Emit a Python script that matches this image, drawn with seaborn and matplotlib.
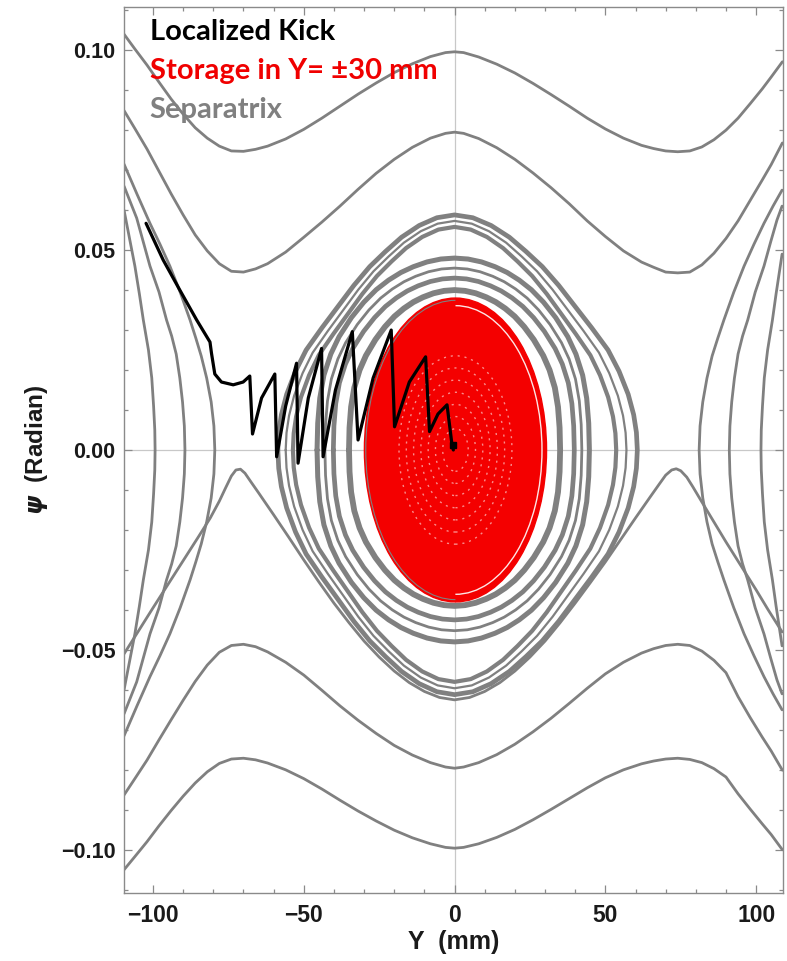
import matplotlib
matplotlib.use("Agg")
import matplotlib.pyplot as plt
from matplotlib.patches import Ellipse, Arc
from matplotlib.ticker import FixedLocator, FixedFormatter, MultipleLocator
from matplotlib.mathtext import MathTextParser
import seaborn as sns

# ---------------- phase-space trajectories (Y in mm, psi in rad) ----------------
# rotating orbits above the bucket
top_y = [-109.6, -106, -102, -98, -94, -90, -86, -82, -78, -74, -70, -66, -62, -56, -50, -44,
         -38, -32, -26, -20, -14, -8, -3, 0, 3, 8, 14, 20, 26, 32, 38, 44, 50, 56, 62, 66, 70,
         74, 78, 82, 86, 90, 94, 98, 102, 105, 108.7]
top1_psi = [0.1040, 0.1003, 0.0963, 0.0920, 0.0878, 0.0840, 0.0806, 0.0780, 0.0760, 0.0748,
            0.0747, 0.0752, 0.0760, 0.0778, 0.0802, 0.0830, 0.0860, 0.0890, 0.0918, 0.0944,
            0.0966, 0.0984, 0.0994, 0.0996, 0.0994, 0.0983, 0.0965, 0.0943, 0.0917, 0.0889,
            0.0860, 0.0830, 0.0803, 0.0780, 0.0762, 0.0754, 0.0748, 0.0746, 0.0748, 0.0758,
            0.0776, 0.0800, 0.0830, 0.0866, 0.0903, 0.0933, 0.0971]
top2_psi = [0.0849, 0.0804, 0.0753, 0.0697, 0.0641, 0.0588, 0.0538, 0.0498, 0.0466, 0.0447,
            0.0445, 0.0453, 0.0466, 0.0495, 0.0532, 0.0570, 0.0610, 0.0652, 0.0692, 0.0727,
            0.0757, 0.0780, 0.0792, 0.0795, 0.0792, 0.0779, 0.0756, 0.0727, 0.0693, 0.0656,
            0.0616, 0.0573, 0.0534, 0.0498, 0.0470, 0.0457, 0.0445, 0.0443, 0.0445, 0.0463,
            0.0492, 0.0529, 0.0573, 0.0624, 0.0675, 0.0714, 0.0768]

# rotating orbits below the bucket
bot_y = top_y
bot1_psi = [-0.1050, -0.1017, -0.0980, -0.0940, -0.0902, -0.0866, -0.0833, -0.0805, -0.0784,
            -0.0773, -0.0771, -0.0775, -0.0783, -0.0800, -0.0822, -0.0848, -0.0876, -0.0903,
            -0.0928, -0.0951, -0.0970, -0.0985, -0.0994, -0.0996, -0.0994, -0.0985, -0.0969,
            -0.0949, -0.0925, -0.0899, -0.0872, -0.0845, -0.0820, -0.0800, -0.0785, -0.0778,
            -0.0773, -0.0771, -0.0774, -0.0782, -0.0797, -0.0818, -0.0860, -0.0898, -0.0935,
            -0.0962, -0.1000]
bot2_psi = [-0.0863, -0.0822, -0.0776, -0.0725, -0.0675, -0.0626, -0.0579, -0.0538, -0.0506,
            -0.0489, -0.0486, -0.0492, -0.0505, -0.0531, -0.0563, -0.0601, -0.0640, -0.0676,
            -0.0709, -0.0739, -0.0763, -0.0782, -0.0793, -0.0796, -0.0793, -0.0782, -0.0762,
            -0.0736, -0.0705, -0.0671, -0.0634, -0.0596, -0.0560, -0.0531, -0.0508, -0.0497,
            -0.0489, -0.0486, -0.0489, -0.0503, -0.0526, -0.0557, -0.0617, -0.0669, -0.0718,
            -0.0753, -0.0801]

# orbit passing just under the two unstable points
lambda_y = [-109.6, -105, -100, -95, -90, -85, -81, -78, -76, -74, -72.5, -71, -69.5, -67.5,
            -65, -60, -55, -50, -45, -40, -35, -30, -25, -20, -15, -10, -5, 0, 5, 10, 15, 20,
            25, 30, 35, 40, 45, 50, 55, 60, 65, 68, 70, 72, 73.5, 75, 77, 79, 82, 86, 90, 95,
            100, 104, 108.6]
lambda_psi = [-0.0510, -0.0455, -0.0395, -0.0336, -0.0277, -0.0218, -0.0170, -0.0128, -0.0096,
              -0.0065, -0.0050, -0.0048, -0.0058, -0.0080, -0.0107, -0.0162, -0.0218, -0.0275,
              -0.0330, -0.0383, -0.0432, -0.0478, -0.0518, -0.0553, -0.0582, -0.0604, -0.0619,
              -0.0625, -0.0619, -0.0604, -0.0582, -0.0553, -0.0518, -0.0478, -0.0432, -0.0383,
              -0.0332, -0.0280, -0.0225, -0.0170, -0.0116, -0.0084, -0.0063, -0.0050, -0.0047,
              -0.0052, -0.0068, -0.0092, -0.0130, -0.0180, -0.0230, -0.0290, -0.0350, -0.0400,
              -0.0455]

# reflected orbits outside the barriers (upper halves; the orbits are symmetric in psi)
left1_y = [-99.3, -99.4, -99.8, -100.4, -101.5, -103.2, -104.5, -106, -107.8, -109.6]
left1_psi = [0, 0.005, 0.011, 0.018, 0.025, 0.0325, 0.039, 0.046, 0.053, 0.060]
left2_y = [-89.4, -89.6, -90.2, -91.1, -92.3, -93.8, -95.5, -98, -101, -103.2, -105.4, -107.5, -109.6]
left2_psi = [0, 0.006, 0.012, 0.018, 0.024, 0.0285, 0.0325, 0.0395, 0.046, 0.052, 0.058, 0.062, 0.066]
left3_y = [-79.5, -79.8, -80.7, -82.2, -84, -85.8, -87.7, -91, -94.4, -97.7, -101, -105.3, -109.6]
left3_psi = [0, 0.006, 0.012, 0.018, 0.0235, 0.028, 0.0325, 0.0395, 0.046, 0.0515, 0.0567, 0.064, 0.0715]
right1_y = [81.1, 81.4, 82.3, 83.7, 85.4, 87.3, 89.3, 92.6, 96, 99.3, 102.6, 105.6, 108.6]
right1_psi = [0, 0.006, 0.012, 0.018, 0.0235, 0.028, 0.0325, 0.0395, 0.046, 0.0515, 0.0567, 0.061, 0.065]
right2_y = [91.1, 91.3, 91.9, 92.8, 94, 95.5, 97.2, 99.7, 102.6, 104.8, 106.9, 108.6]
right2_psi = [0, 0.006, 0.012, 0.018, 0.024, 0.0285, 0.0325, 0.0395, 0.046, 0.052, 0.0575, 0.061]
right3_y = [101.6, 101.7, 102.1, 102.7, 103.8, 105.4, 106.6, 108, 108.6]
right3_psi = [0, 0.005, 0.011, 0.018, 0.025, 0.0325, 0.039, 0.046, 0.049]

# bound orbits inside the bucket: extents (left Y, right Y, top psi, bottom psi)
ring_a = (-35.0, 35.0, 0.0400, -0.0390)
ring_b1 = (-40.2, 39.7, 0.0430, -0.0425)
ring_bm = (-43.0, 42.2, 0.0455, -0.0452)
ring_b2 = (-45.6, 44.7, 0.0480, -0.0480)
ring_c1 = (-53.6, 53.6, 0.0558, -0.0580)
ring_cm = (-56.0, 57.0, 0.0573, -0.0596)
ring_c2 = (-58.6, 60.6, 0.0588, -0.0612)
# shapes of those orbits: |psi|/psi_max against |Y|/Y_max
shape_x = [0, 0.1, 0.2, 0.3, 0.39, 0.48, 0.57, 0.66, 0.75, 0.84, 0.9, 0.95, 0.98, 0.995, 1]
shape_round = [1, 0.995, 0.98, 0.955, 0.925, 0.885, 0.835, 0.77, 0.69, 0.59, 0.50, 0.39, 0.27, 0.14, 0]
shape_lemon = [1, 0.988, 0.955, 0.905, 0.845, 0.78, 0.70, 0.61, 0.52, 0.425, 0.335, 0.237, 0.15, 0.075, 0]

# stored beam region (Y = +-30 mm)
storage_center = (0.3, 0.0)
storage_half_y = 30.2
storage_half_psi = 0.038
storage_ring_fracs = [0.14, 0.22, 0.30, 0.38, 0.46, 0.54, 0.62]

# localized kick trajectory
kick_y = [-102.3, -96.6, -91.1, -85.5, -81.1, -80.6, -79.5, -77.3, -73.4, -70.1, -67.9, -67.0,
          -64.0, -59.6, -59.0, -56.0, -52.4, -51.9, -48.5, -44.1, -43.6, -39.5, -33.9, -32.0,
          -27.0, -21.0, -19.9, -15.0, -9.6, -8.3, -5.5, -2.5, -0.8, -0.4]
kick_psi = [0.0567, 0.0475, 0.0400, 0.0325, 0.0270, 0.0242, 0.0190, 0.0170, 0.0163, 0.0170,
            0.0185, 0.0040, 0.0130, 0.0190, -0.0017, 0.0110, 0.0217, -0.0033, 0.0130, 0.0254,
            -0.0017, 0.0150, 0.0296, 0.0025, 0.0180, 0.0300, 0.0058, 0.0170, 0.0233, 0.0046,
            0.0090, 0.0113, 0.0010, 0.0]

x_ticks = [-100, -50, 0, 50, 100]
x_tick_labels = ["\u2212100", "\u221250", "0", "50", "100"]
y_ticks = [-0.10, -0.05, 0.0, 0.05, 0.10]
y_tick_labels = ["\u22120.10", "\u22120.05", "0.00", "0.05", "0.10"]
legend_texts = ["Localized Kick", "Storage in Y= \u00b130 mm", "Separatrix"]

GRAY = "#808080"
RED = "#f40000"

sns.set_theme(style="white")
plt.rcParams["font.family"] = ["Liberation Sans", "DejaVu Sans"]
plt.rcParams["mathtext.fontset"] = "dejavusans"

fig = plt.figure(figsize=(7.87, 9.61), dpi=100)
ax = fig.add_axes([0.1576, 0.0708, 0.8373, 0.9219])


def draw(y, p, color=GRAY, lw=2.0, z=2):
    sns.lineplot(x=y, y=p, ax=ax, sort=False, estimator=None, color=color,
                 linewidth=lw, zorder=z, legend=False)


def draw_reflected(y, p, lw=2.0):
    # upper half from the edge down to the turning point, then the mirrored lower half
    draw(list(y[::-1]) + list(y[1:]), list(p[::-1]) + [-v for v in p[1:]], lw=lw)


def draw_ring(ext, shape, lw=2.2, z=2):
    left, right, top, bottom = ext
    ys, ps = [], []
    for fx, fp in zip(shape_x[::-1], shape[::-1]):          # left end -> centre, upper
        ys.append(left * fx); ps.append(top * fp)
    for fx, fp in zip(shape_x[1:], shape[1:]):              # centre -> right end, upper
        ys.append(right * fx); ps.append(top * fp)
    for fx, fp in zip(shape_x[::-1][1:], shape[::-1][1:]):  # right end -> centre, lower
        ys.append(right * fx); ps.append(bottom * fp)
    for fx, fp in zip(shape_x[1:], shape[1:]):              # centre -> left end, lower
        ys.append(left * fx); ps.append(bottom * fp)
    draw(ys, ps, lw=lw, z=z)


ax.axhline(0, color="#c8c8c8", lw=0.9, zorder=0)
ax.axvline(0, color="#c8c8c8", lw=0.9, zorder=0)

for yy, pp in [(top_y, top1_psi), (top_y, top2_psi), (bot_y, bot1_psi), (bot_y, bot2_psi),
               (lambda_y, lambda_psi)]:
    draw(yy, pp, lw=2.0)
for yy, pp in [(left1_y, left1_psi), (left2_y, left2_psi), (left3_y, left3_psi),
               (right1_y, right1_psi), (right2_y, right2_psi), (right3_y, right3_psi)]:
    draw_reflected(yy, pp, lw=2.0)

draw_ring(ring_c2, shape_lemon, lw=3.4)
draw_ring(ring_cm, shape_lemon, lw=1.6)
draw_ring(ring_c1, shape_lemon, lw=3.0)
draw_ring(ring_b2, shape_round, lw=3.6)
draw_ring(ring_bm, shape_round, lw=2.0)
draw_ring(ring_b1, shape_round, lw=3.4)
draw_ring(ring_a, shape_round, lw=4.2)

# stored beam
ax.add_patch(Ellipse(storage_center, 2 * storage_half_y, 2 * storage_half_psi,
                     facecolor=RED, edgecolor=RED, lw=1.0, zorder=3))
ax.add_patch(Arc(storage_center, 2 * storage_half_y * 0.95, 2 * storage_half_psi * 0.95,
                 theta1=-130, theta2=75, edgecolor="white", lw=1.0, alpha=0.9, zorder=3.2))
ax.add_patch(Arc(storage_center, 2 * storage_half_y * 0.985, 2 * storage_half_psi * 0.985,
                 theta1=100, theta2=250, edgecolor=GRAY, lw=0.8, zorder=3.1))
for f in storage_ring_fracs:
    ax.add_patch(Ellipse(storage_center, 2 * storage_half_y * f, 2 * storage_half_psi * f,
                         facecolor="none", edgecolor="white", lw=1.0,
                         linestyle=(0, (1.5, 3.5)), alpha=0.55, zorder=3.3))

# kick
draw(kick_y, kick_psi, color="black", lw=2.3, z=5)
ax.plot(kick_y[-1], kick_psi[-1] + 0.0012, marker="s", ms=4, color="black", zorder=5)

ax.set_xlim(-109.6, 108.9)
ax.set_ylim(-0.1108, 0.1108)

ax.xaxis.set_major_locator(FixedLocator(x_ticks))
ax.xaxis.set_major_formatter(FixedFormatter(x_tick_labels))
ax.yaxis.set_major_locator(FixedLocator(y_ticks))
ax.yaxis.set_major_formatter(FixedFormatter(y_tick_labels))
ax.xaxis.set_minor_locator(MultipleLocator(10))
ax.yaxis.set_minor_locator(MultipleLocator(0.01))
ax.tick_params(which="both", direction="in", top=True, right=True, bottom=True, left=True,
               color="#8a8a8a", width=0.9)
ax.tick_params(which="major", length=6)
ax.tick_params(which="minor", length=3)
ax.tick_params(axis="x", which="major", labelsize=16.5, pad=8)
ax.tick_params(axis="y", which="major", labelsize=15.5, pad=6)
for lab in ax.get_xticklabels() + ax.get_yticklabels():
    lab.set_fontweight("bold")
    lab.set_color("#1a1a1a")
for sp in ax.spines.values():
    sp.set_color("#8a8a8a")
    sp.set_linewidth(1.0)

psi_sym = r"$\psi$"
try:
    MathTextParser("path").parse(r"$\mathbfit{\psi}$", dpi=100)
    psi_sym = r"$\mathbfit{\psi}$"
except Exception:
    pass

ax.set_xlabel("Y  (mm)", fontsize=18, fontweight="bold", color="#1a1a1a", labelpad=2)
ax.set_ylabel(psi_sym + "  (Radian)", fontsize=17.5, fontweight="bold", color="#1a1a1a", labelpad=8)

for txt, col, yy in zip(legend_texts, ["black", "#f00000", GRAY], [0.963, 0.919, 0.875]):
    ax.text(0.039, yy, txt, transform=ax.transAxes, fontsize=21, fontweight="bold",
            color=col, family=["Lato", "DejaVu Sans"], va="baseline", ha="left", zorder=6)

fig.savefig("out.png", dpi=100, facecolor="white")
